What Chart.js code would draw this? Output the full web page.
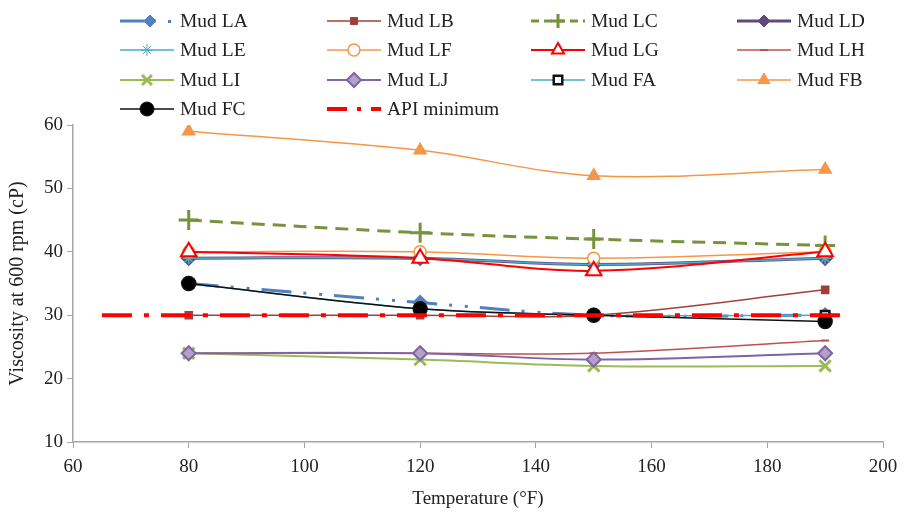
<!DOCTYPE html>
<html>
<head>
<meta charset="utf-8">
<script src="https://cdn.jsdelivr.net/npm/chart.js@4/dist/chart.umd.min.js"></script>
<style>
  html, body { margin: 0; padding: 0; background: #fff; }
  #wrap { width: 907px; height: 514px; }
</style>
</head>
<body>
<div id="wrap"><canvas id="c" width="907" height="514"></canvas></div>
<script>
// temperatures (°F)
const temps = [80, 120, 150, 190]

// viscosity at 600 rpm (cP)
const mudLA = [35, 32, 30, 30]
const mudLB = [30, 30, 30, 34]
const mudLC = [45, 43, 42, 41]
const mudLD = [39, 39, 38, 39]
const mudLE = [39, 39, 38, 39]
const mudLF = [40, 40, 39, 40]
const mudLG = [40, 39, 37, 40]
const mudLH = [24, 24, 24, 26]
const mudLI = [24, 23, 22, 22]
const mudLJ = [24, 24, 23, 24]
const mudFA = [35, 31, 30, 30]
const mudFB = [59, 56, 52, 53]
const mudFC = [35, 31, 30, 29]

const apiTemps = [65, 193]
const apiMin = [30, 30]

const xTicks = [60, 80, 100, 120, 140, 160, 180, 200]
const yTicks = [10, 20, 30, 40, 50, 60]

const pts = (xs, ys) => xs.map((x, i) => ({ x: x, y: ys[i] }))

const series = [
  { label: 'Mud LA', data: pts(temps, mudLA), borderColor: '#4F81BD', backgroundColor: '#4F81BD', borderWidth: 3, borderDash: [30, 12, 3, 13, 3, 12], pointStyle: 'rectRot', pointRadius: 6 },
  { label: 'Mud LB', data: pts(temps, mudLB), borderColor: '#A0403C', backgroundColor: '#A0403C', borderWidth: 1.5, pointStyle: 'rect', pointRadius: 5 },
  { label: 'Mud LC', data: pts(temps, mudLC), borderColor: '#77933C', backgroundColor: '#77933C', borderWidth: 3, borderDash: [13, 8], pointStyle: 'cross', pointRadius: 10, pointBorderWidth: 3 },
  { label: 'Mud LD', data: pts(temps, mudLD), borderColor: '#604A7B', backgroundColor: '#604A7B', borderWidth: 3, pointStyle: 'rectRot', pointRadius: 6 },
  { label: 'Mud LE', data: pts(temps, mudLE), borderColor: '#4BACC6', backgroundColor: '#4BACC6', borderWidth: 1.5, pointStyle: 'star', pointRadius: 6 },
  { label: 'Mud LF', data: pts(temps, mudLF), borderColor: '#F79646', backgroundColor: '#ffffff', borderWidth: 1.5, pointStyle: 'circle', pointRadius: 6, pointBorderWidth: 1.5 },
  { label: 'Mud LG', data: pts(temps, mudLG), borderColor: '#FF0000', backgroundColor: '#ffffff', borderWidth: 2, pointStyle: 'triangle', pointRadius: 9, pointBorderWidth: 2 },
  { label: 'Mud LH', data: pts(temps, mudLH), borderColor: '#C0504D', backgroundColor: '#C0504D', borderWidth: 1.5, pointStyle: 'line', pointRadius: 4, pointBorderWidth: 2 },
  { label: 'Mud LI', data: pts(temps, mudLI), borderColor: '#9BBB59', backgroundColor: '#9BBB59', borderWidth: 2, pointStyle: 'crossRot', pointRadius: 8, pointBorderWidth: 3 },
  { label: 'Mud LJ', data: pts(temps, mudLJ), borderColor: '#8064A2', backgroundColor: '#B3A2C7', borderWidth: 2, pointStyle: 'rectRot', pointRadius: 7, pointBorderWidth: 2 },
  { label: 'Mud FA', data: pts(temps, mudFA), borderColor: '#4BACC6', backgroundColor: '#ffffff', borderWidth: 1.5, pointStyle: 'rect', pointRadius: 6, pointBorderWidth: 2.5, pointBorderColor: '#111111' },
  { label: 'Mud FB', data: pts(temps, mudFB), borderColor: '#F79646', backgroundColor: '#F79646', borderWidth: 1.5, pointStyle: 'triangle', pointRadius: 7 },
  { label: 'Mud FC', data: pts(temps, mudFC), borderColor: '#111111', backgroundColor: '#000000', borderWidth: 1.5, pointStyle: 'circle', pointRadius: 7 },
  { label: 'API minimum', data: pts(apiTemps, apiMin), borderColor: '#FF0000', backgroundColor: '#FF0000', borderWidth: 4, borderDash: [30, 12, 5, 12], pointRadius: 0, tension: 0 }
]

// Excel draws later series on top
series.forEach((s, i) => {
  s.order = series.length - i
  if (s.tension === undefined) s.tension = 0.35
  if (!s.pointBorderColor) s.pointBorderColor = s.borderColor
  s.pointBackgroundColor = s.backgroundColor
  s.fill = false
})

// 4-column legend like the Excel one
const gridLegend = {
  id: 'gridLegend',
  afterDraw(chart) {
    const ctx = chart.ctx
    const colX = [120, 327, 531, 737]
    const rowY = [21, 50, 80, 109]
    chart.data.datasets.forEach((ds, i) => {
      const x = colX[i % 4]
      const y = rowY[Math.floor(i / 4)]
      ctx.save()
      ctx.strokeStyle = ds.borderColor
      ctx.lineWidth = ds.borderWidth
      let dash = []
      if (ds.label === 'Mud LC') dash = [8, 5]
      if (ds.pointRadius === 0) dash = [20, 10, 4, 10]
      ctx.setLineDash(dash)
      ctx.beginPath()
      ctx.moveTo(x, y)
      ctx.lineTo(x + (ds.label === 'Mud LA' ? 36 : 54), y)
      ctx.stroke()
      ctx.setLineDash([])
      if (ds.label === 'Mud LA') {
        ctx.fillStyle = ds.borderColor
        ctx.fillRect(x + 48, y - 1, 3, 3)
      }
      if (ds.pointRadius > 0) {
        ctx.fillStyle = ds.pointBackgroundColor
        ctx.strokeStyle = ds.pointBorderColor
        ctx.lineWidth = ds.pointBorderWidth || 1
        Chart.helpers.drawPoint(ctx, {
          pointStyle: ds.pointStyle,
          radius: Math.min(ds.pointRadius, 7),
          borderWidth: ds.pointBorderWidth || 1,
          rotation: 0
        }, x + (ds.label === 'Mud LA' ? 30 : 27), y)
      }
      ctx.fillStyle = '#222'
      ctx.font = '19.5px "Liberation Serif", serif'
      ctx.textBaseline = 'middle'
      ctx.fillText(ds.label, x + 60, y + 1)
      ctx.restore()
    })
  }
}

const serif = '"Liberation Serif", "Times New Roman", serif'

new Chart(document.getElementById('c'), {
  type: 'line',
  data: { datasets: series },
  options: {
    responsive: false,
    animation: false,
    layout: { padding: { top: 125, right: 24, left: 6, bottom: 0 } },
    plugins: {
      legend: { display: false },
      tooltip: { enabled: false }
    },
    scales: {
      x: {
        type: 'linear',
        min: 60,
        max: 200,
        afterBuildTicks: (scale) => { scale.ticks = xTicks.map(v => ({ value: v })) },
        afterFit: (scale) => { scale.height = 72 },
        grid: { drawOnChartArea: false, drawTicks: true, tickLength: 6, color: '#a6a6a6' },
        border: { color: '#a6a6a6', width: 1.5 },
        ticks: { color: '#222', font: { family: serif, size: 19 }, padding: 8 },
        title: { display: true, text: 'Temperature (°F)', color: '#222', font: { family: serif, size: 19 }, padding: { top: 4 } }
      },
      y: {
        min: 10,
        max: 60,
        afterBuildTicks: (scale) => { scale.ticks = yTicks.map(v => ({ value: v })) },
        afterFit: (scale) => { scale.width = 67 },
        grid: { drawOnChartArea: false, drawTicks: true, tickLength: 6, color: '#a6a6a6' },
        border: { color: '#a6a6a6', width: 1.5 },
        ticks: { color: '#222', font: { family: serif, size: 19 }, padding: 4 },
        title: { display: true, text: 'Viscosity at 600 rpm (cP)', color: '#222', font: { family: serif, size: 20 }, padding: 0 }
      }
    }
  },
  plugins: [gridLegend]
})
</script>
</body>
</html>
